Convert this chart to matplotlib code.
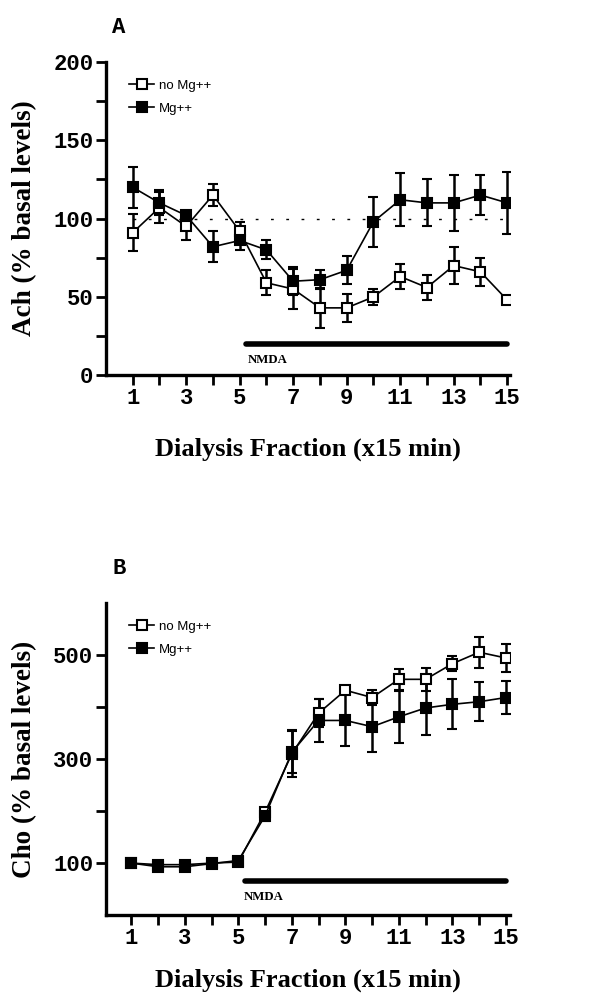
import matplotlib
matplotlib.use("Agg")
import matplotlib.pyplot as plt
from matplotlib.lines import Line2D
from matplotlib.ticker import MultipleLocator, FixedLocator

# ---- data ----
fractions = list(range(1, 16))

ach_no_mg = [91, 107, 95, 115, 92, 59, 55, 43, 43, 50, 63, 56, 70, 66, 48]
ach_no_mg_err = [12, 10, 9, 7, 6, 8, 13, 13, 9, 5, 8, 8, 12, 9, 2]
ach_mg = [120, 110, 102, 82, 86, 80, 60, 61, 67, 98, 112, 110, 110, 115, 110]
ach_mg_err = [13, 8, 3, 10, 6, 6, 9, 6, 9, 16, 17, 15, 18, 13, 20]

cho_no_mg = [100, 97, 97, 100, 102, 198, 310, 388, 432, 418, 453, 453, 483, 505, 494]
cho_no_mg_err = [3, 3, 3, 3, 3, 8, 45, 27, 8, 15, 20, 22, 14, 30, 27]
cho_mg = [100, 93, 93, 99, 105, 191, 313, 374, 374, 362, 381, 398, 405, 410, 418]
cho_mg_err = [3, 3, 3, 3, 3, 10, 40, 41, 50, 48, 50, 52, 48, 38, 31]

ach_nmda = (5.25, 15.0, 20)
cho_nmda = (5.25, 15.0, 65)

MONO = "Liberation Mono"
SERIF = "Liberation Serif"
SANS = "Liberation Sans"

fig = plt.figure(figsize=(6.02, 9.98), dpi=100)
ax_a = fig.add_axes([0.176, 0.624, 0.671, 0.314])
ax_b = fig.add_axes([0.176, 0.083, 0.671, 0.313])


def draw_series(ax, y, err, filled):
    ax.errorbar(fractions, y, yerr=err, color="black", lw=1.2,
                elinewidth=1.8, capsize=3.5, capthick=1.8,
                marker="s", ms=7.5, mew=1.5,
                mfc="black" if filled else "white", mec="black", zorder=3)


def style_axes(ax, ylabel, panel, xpad):
    for side in ("top", "right"):
        ax.spines[side].set_visible(False)
    for side in ("left", "bottom"):
        ax.spines[side].set_linewidth(2.4)
    ax.xaxis.set_major_locator(FixedLocator(range(1, 16, 2)))
    ax.xaxis.set_minor_locator(FixedLocator(range(2, 15, 2)))
    ax.tick_params(which="both", direction="out", width=2, length=7,
                   labelsize=16, pad=2)
    for lab in ax.get_xticklabels() + ax.get_yticklabels():
        lab.set_fontfamily(MONO)
        lab.set_fontweight("bold")
    ax.set_ylabel(ylabel, family=SERIF, fontweight="bold", fontsize=19.5,
                  labelpad=12)
    ax.set_xlabel("Dialysis Fraction (x15 min)", family=SERIF,
                  fontweight="bold", fontsize=19, labelpad=xpad)
    ax.text(0.015, 1.11, panel, transform=ax.transAxes, family=MONO,
            fontweight="bold", fontsize=16, ha="left", va="center")
    handles = [
        Line2D([], [], color="black", lw=1.2, marker="s", ms=7, mew=1.5,
               mfc="white", mec="black"),
        Line2D([], [], color="black", lw=1.2, marker="s", ms=7, mew=1.5,
               mfc="black", mec="black"),
    ]
    ax.legend(handles, ["no Mg++", "Mg++"], loc="upper left",
              bbox_to_anchor=(0.045, 0.96), frameon=False, handlelength=1.9,
              handletextpad=0.35, labelspacing=0.8, borderaxespad=0,
              prop={"family": SANS, "size": 9.5})


# ---- panel A ----
ax = ax_a
ax.plot([1, 15], [100, 100], color="black", lw=1, ls=(0, (2, 9)), zorder=1)
draw_series(ax, ach_no_mg, ach_no_mg_err, False)
draw_series(ax, ach_mg, ach_mg_err, True)
ax.plot(ach_nmda[:2], [ach_nmda[2]] * 2, color="black", lw=4,
        solid_capstyle="round")
ax.text(ach_nmda[0] + 0.05, ach_nmda[2] - 10, "NMDA", family=SERIF,
        fontweight="bold", fontsize=9.2, ha="left", va="center")
ax.set_xlim(0, 15.1)
ax.set_ylim(0, 200)
ax.yaxis.set_major_locator(MultipleLocator(50))
ax.yaxis.set_minor_locator(MultipleLocator(25))
style_axes(ax, "Ach (% basal levels)", "A", 21)

# ---- panel B ----
ax = ax_b
draw_series(ax, cho_no_mg, cho_no_mg_err, False)
draw_series(ax, cho_mg, cho_mg_err, True)
ax.plot(cho_nmda[:2], [cho_nmda[2]] * 2, color="black", lw=4,
        solid_capstyle="round")
ax.text(cho_nmda[0] - 0.05, cho_nmda[2] - 30, "NMDA", family=SERIF,
        fontweight="bold", fontsize=9.2, ha="left", va="center")
ax.set_xlim(0.05, 15.15)
ax.set_ylim(0, 600)
ax.yaxis.set_major_locator(FixedLocator([100, 300, 500]))
ax.yaxis.set_minor_locator(FixedLocator([200, 400]))
style_axes(ax, "Cho (% basal levels)", "B", 14)

fig.savefig("out.png", dpi=100)
